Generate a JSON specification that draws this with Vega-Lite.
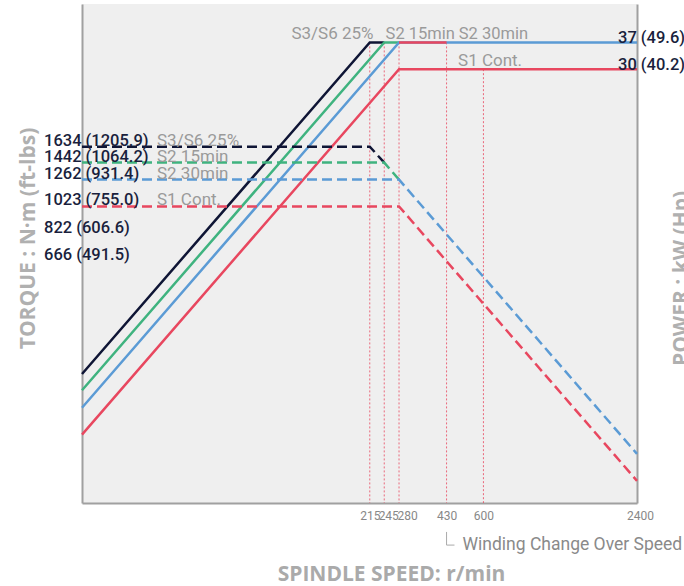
{
  "$schema": "https://vega.github.io/schema/vega-lite/v6.json",
  "width": 555,
  "height": 499,
  "autosize": {"type": "none"},
  "padding": {"left": 82, "top": 4, "right": 47, "bottom": 83},
  "background": "white",
  "config": {"view": {"stroke": null, "fill": "#efefef"}, "font": "Roboto"},
  "datasets": {
    "power": [
      {"series": "S3", "rpm": 16, "kw": 2.75},
      {"series": "S3", "rpm": 215, "kw": 37},
      {"series": "S3", "rpm": 245, "kw": 37},
      {"series": "S2_15", "rpm": 16, "kw": 2.42},
      {"series": "S2_15", "rpm": 245, "kw": 37},
      {"series": "S2_15", "rpm": 280, "kw": 37},
      {"series": "S2_30", "rpm": 16, "kw": 2.11},
      {"series": "S2_30", "rpm": 280, "kw": 37},
      {"series": "S2_30", "rpm": 2400, "kw": 37},
      {"series": "S1", "rpm": 16, "kw": 1.71},
      {"series": "S1", "rpm": 280, "kw": 30},
      {"series": "S1", "rpm": 2400, "kw": 30},
      {"series": "S1x", "rpm": 280, "kw": 37},
      {"series": "S1x", "rpm": 430, "kw": 37}
    ],
    "torque": [
      {"series": "S3", "rpm": 16, "nm": 1634},
      {"series": "S3", "rpm": 215, "nm": 1634},
      {"series": "S3", "rpm": 245, "nm": 1442},
      {"series": "S2_15", "rpm": 16, "nm": 1442},
      {"series": "S2_15", "rpm": 245, "nm": 1442},
      {"series": "S2_15", "rpm": 280, "nm": 1262},
      {"series": "S2_30", "rpm": 16, "nm": 1262},
      {"series": "S2_30", "rpm": 280, "nm": 1262},
      {"series": "S2_30", "rpm": 2400, "nm": 147},
      {"series": "S1", "rpm": 16, "nm": 1023},
      {"series": "S1", "rpm": 280, "nm": 1023},
      {"series": "S1", "rpm": 2400, "nm": 119}
    ],
    "speeds": [
      {"rpm": 215, "kw": 37},
      {"rpm": 245, "kw": 37},
      {"rpm": 280, "kw": 37},
      {"rpm": 430, "kw": 37},
      {"rpm": 600, "kw": 30}
    ],
    "plabels": [
      {"label": "37 (49.6)", "kw": 37},
      {"label": "30 (40.2)", "kw": 30}
    ],
    "tlabels": [
      {"nm": 1634, "label": "1634 (1205.9)", "cat": "S3/S6 25%"},
      {"nm": 1442, "label": "1442 (1064.2)", "cat": "S2 15min"},
      {"nm": 1262, "label": "1262 (931.4)", "cat": "S2 30min"},
      {"nm": 1023, "label": "1023 (755.0)", "cat": "S1 Cont."},
      {"nm": 822, "label": "822 (606.6)", "cat": ""},
      {"nm": 666, "label": "666 (491.5)", "cat": ""}
    ]
  },
  "layer": [
    {
      "layer": [
        {
          "data": {"name": "speeds"},
          "mark": {"type": "rule", "strokeDash": [2, 2], "strokeWidth": 1, "color": "#e8475f", "opacity": 0.8},
          "encoding": {
            "x": {"field": "rpm", "type": "quantitative"},
            "y": {"field": "kw", "type": "quantitative"},
            "y2": {"datum": 1}
          }
        },
        {
          "data": {"name": "power"},
          "mark": {"type": "line", "strokeWidth": 2.5},
          "encoding": {
            "x": {
              "field": "rpm",
              "type": "quantitative",
              "scale": {"type": "log", "domain": [16, 2400], "nice": false},
              "axis": {
                "values": [215, 245, 280, 430, 600, 2400],
                "format": "d",
                "labelOverlap": false,
                "labelFlush": false,
                "ticks": false,
                "grid": false,
                "domainColor": "#a0a0a0",
                "domainWidth": 2,
                "labelColor": "#888888",
                "labelFont": "Roboto",
                "labelFontSize": 12,
                "labelPadding": 7,
                "labelOffset": {"condition": [{"test": "datum.value == 245", "value": 4}, {"test": "datum.value == 280", "value": 8}, {"test": "datum.value == 2400", "value": 3}], "value": 0},
                "title": "SPINDLE SPEED: r/min",
                "titleFont": "Open Sans",
                "titleFontSize": 21,
                "titleFontWeight": "bold",
                "titleColor": "#aaaaaa",
                "titleX": 309,
                "titleY": 77,
                "titleBaseline": "alphabetic",
                "titleAlign": "center"
              }
            },
            "y": {
              "field": "kw",
              "type": "quantitative",
              "scale": {"type": "log", "domain": [1, 50], "nice": false},
              "axis": {
                "orient": "right",
                "labels": false,
                "ticks": false,
                "grid": false,
                "domainColor": "#a0a0a0",
                "domainWidth": 2,
                "title": "POWER : kW (Hp)",
                "titleFont": "Open Sans",
                "titleFontSize": 21,
                "titleFontWeight": "bold",
                "titleColor": "#b0b0b0",
                "titleX": 50,
                "titleY": 274,
                "titleAngle": -90,
                "titleBaseline": "alphabetic",
                "titleAlign": "center"
              }
            },
            "color": {
              "field": "series",
              "type": "nominal",
              "scale": {"domain": ["S3", "S2_15", "S2_30", "S1", "S1x"], "range": ["#0f1535", "#3fb37f", "#5b9bd5", "#e8475f", "#e8475f"]},
              "legend": null
            }
          }
        },
        {
          "data": {"name": "plabels"},
          "mark": {"type": "text", "align": "left", "baseline": "alphabetic", "dx": -19, "dy": 1, "fontSize": 16.5, "fontWeight": 500, "color": "#1a1f3d"},
          "encoding": {
            "x": {"datum": 2400, "type": "quantitative"},
            "y": {"field": "kw", "type": "quantitative"},
            "text": {"field": "label"}
          }
        },
        {
          "data": {"values": [{}]},
          "mark": {"type": "text", "align": "left", "baseline": "alphabetic", "dy": -3, "fontSize": 17, "color": "#9a9a9a", "text": "S3/S6 25%"},
          "encoding": {"x": {"datum": 106, "type": "quantitative"}, "y": {"datum": 37, "type": "quantitative"}}
        },
        {
          "data": {"values": [{}]},
          "mark": {"type": "text", "align": "left", "baseline": "alphabetic", "dy": -3, "fontSize": 16.5, "color": "#9a9a9a", "text": "S2 15min"},
          "encoding": {"x": {"datum": 248, "type": "quantitative"}, "y": {"datum": 37, "type": "quantitative"}}
        },
        {
          "data": {"values": [{}]},
          "mark": {"type": "text", "align": "left", "baseline": "alphabetic", "dy": -3, "fontSize": 16.5, "color": "#9a9a9a", "text": "S2 30min"},
          "encoding": {"x": {"datum": 480, "type": "quantitative"}, "y": {"datum": 37, "type": "quantitative"}}
        },
        {
          "data": {"values": [{}]},
          "mark": {"type": "text", "align": "left", "baseline": "alphabetic", "dy": -3, "fontSize": 17, "color": "#9a9a9a", "text": "S1 Cont."},
          "encoding": {"x": {"datum": 477, "type": "quantitative"}, "y": {"datum": 30, "type": "quantitative"}}
        }
      ]
    },
    {
      "layer": [
        {
          "data": {"name": "torque"},
          "mark": {"type": "line", "strokeWidth": 2.5, "strokeDash": [10, 5]},
          "encoding": {
            "x": {"field": "rpm", "type": "quantitative"},
            "y": {
              "field": "nm",
              "type": "quantitative",
              "scale": {"type": "log", "domain": [100, 5000], "nice": false},
              "axis": {
                "orient": "left",
                "labels": false,
                "ticks": false,
                "grid": false,
                "domainColor": "#a0a0a0",
                "domainWidth": 2,
                "title": "TORQUE : N·m (ft-lbs)",
                "titleFont": "Open Sans",
                "titleFontSize": 21,
                "titleFontWeight": "bold",
                "titleColor": "#b0b0b0",
                "titleX": -48,
                "titleY": 234,
                "titleAngle": -90,
                "titleBaseline": "alphabetic",
                "titleAlign": "center"
              }
            },
            "color": {"field": "series", "type": "nominal", "legend": null}
          }
        },
        {
          "data": {"name": "tlabels"},
          "mark": {"type": "text", "align": "left", "baseline": "alphabetic", "dx": -38, "dy": -1, "fontSize": 16.5, "fontWeight": 500, "color": "#1a1f3d"},
          "encoding": {
            "x": {"datum": 16, "type": "quantitative"},
            "y": {"field": "nm", "type": "quantitative"},
            "text": {"field": "label"}
          }
        },
        {
          "data": {"name": "tlabels"},
          "mark": {"type": "text", "align": "left", "baseline": "alphabetic", "dx": 75, "dy": -1, "fontSize": 17, "color": "#9a9a9a"},
          "encoding": {
            "x": {"datum": 16, "type": "quantitative"},
            "y": {"field": "nm", "type": "quantitative"},
            "text": {"field": "cat"}
          }
        },
        {
          "data": {"values": [{}]},
          "mark": {"type": "rule", "color": "#aaaaaa", "strokeWidth": 1},
          "encoding": {"x": {"datum": 430, "type": "quantitative"}, "y": {"datum": 79.7, "type": "quantitative"}, "y2": {"datum": 71.9}}
        },
        {
          "data": {"values": [{}]},
          "mark": {"type": "rule", "color": "#aaaaaa", "strokeWidth": 1},
          "encoding": {"x": {"datum": 430, "type": "quantitative"}, "x2": {"datum": 462}, "y": {"datum": 71.9, "type": "quantitative"}}
        },
        {
          "data": {"values": [{}]},
          "mark": {"type": "text", "align": "left", "baseline": "alphabetic", "dx": 16, "dy": 47, "fontSize": 17.5, "color": "#8a8a8a", "text": "Winding Change Over Speed"},
          "encoding": {"x": {"datum": 430, "type": "quantitative"}, "y": {"datum": 100, "type": "quantitative"}}
        }
      ]
    }
  ],
  "resolve": {"scale": {"y": "independent"}}
}
